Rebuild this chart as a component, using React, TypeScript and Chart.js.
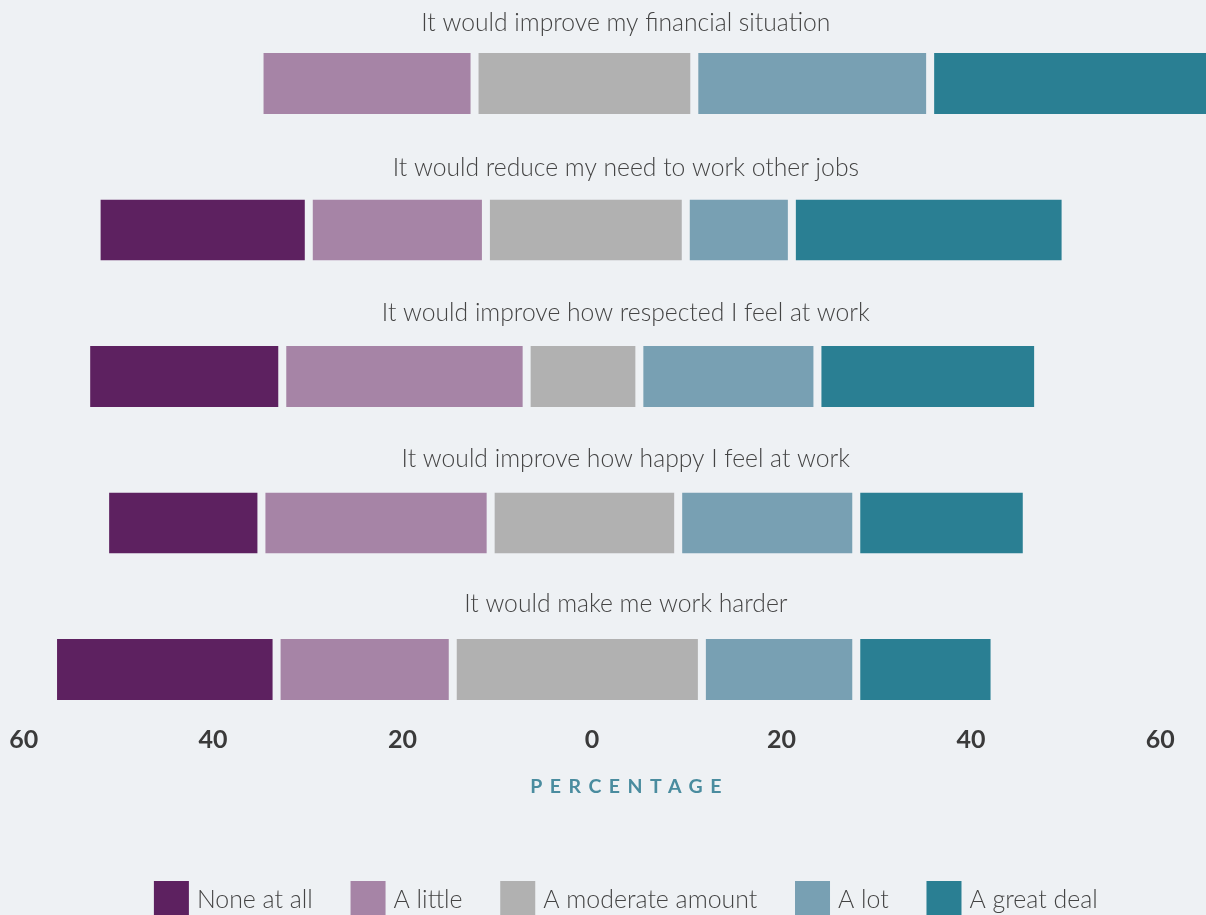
import { useEffect, useRef } from 'react';
import { Chart, registerables } from 'chart.js';

Chart.register(...registerables);

const categories = [
  'It would improve my financial situation',
  'It would reduce my need to work other jobs',
  'It would improve how respected I feel at work',
  'It would improve how happy I feel at work',
  'It would make me work harder',
];

// values in percent; left-side answers are negative
const noneAtAll = [0, -22.4, -20.7, -16.5, -23.6];
const aLittle = [-22.7, -18.7, -25.8, -24.2, -18.6];
const moderateLeft = [-12.4, -11.2, -6.9, -10.7, -14.7];
const moderateRight = [10.8, 9.9, 5.0, 9.1, 11.6];
const aLot = [24.9, 11.2, 18.8, 18.8, 16.3];
const aGreatDeal = [30.0, 28.9, 23.3, 18.0, 14.6];

const xTicks = [-60, -40, -20, 0, 20, 40, 60];
const axisTitle = 'PERCENTAGE';
const legendLabels = ['None at all', 'A little', 'A moderate amount', 'A lot', 'A great deal'];
const seriesColors = ['#5d2160', '#a684a6', '#b1b1b1', '#78a0b3', '#2a7f93'];

const BG = '#eef1f4';
const TEXT = '#444444';
const TICK = '#3a3a3a';
const TITLE = '#4a8c9f';
const GAP = 4;

function makeDataset(label: string, data: number[], color: string, noLeft: boolean, noRight: boolean) {
  return {
    label,
    data,
    backgroundColor: color,
    borderColor: BG,
    borderWidth: { left: noLeft ? 0 : GAP, right: noRight ? 0 : GAP, top: 0, bottom: 0 },
    borderSkipped: false as const,
    barThickness: 61,
    stack: 'likert',
    inflateAmount: 0,
  };
}

const overlayPlugin = {
  id: 'overlay',
  afterDraw(chart: any) {
    const { ctx, chartArea, scales } = chart;
    const cx = (chartArea.left + chartArea.right) / 2;
    ctx.save();
    // category titles above each bar
    ctx.fillStyle = TEXT;
    ctx.font = '300 24.7px Lato';
    ctx.textAlign = 'center';
    ctx.textBaseline = 'alphabetic';
    const y0 = scales.y.getPixelForValue(0);
    categories.forEach((c, i) => {
      ctx.fillText(c, cx, y0 - 52.5 + i * 145.2);
    });
    // x tick labels
    ctx.fillStyle = TICK;
    ctx.font = 'bold 25px Lato';
    xTicks.forEach((v) => {
      ctx.fillText(String(Math.abs(v)), scales.x.getPixelForValue(v), chartArea.bottom + 5.5);
    });
    // axis title with letter spacing
    const spacing = 7.5;
    ctx.font = 'bold 19.5px Lato';
    ctx.fillStyle = TITLE;
    ctx.letterSpacing = spacing + 'px';
    const tw = ctx.measureText(axisTitle).width - spacing;
    ctx.textAlign = 'left';
    ctx.fillText(axisTitle, cx - tw / 2, chartArea.bottom + 50.5);
    ctx.letterSpacing = '0px';
    // legend
    ctx.font = '300 24.9px Lato';
    const box = 35;
    const boxGap = 8;
    const itemGap = 37.7;
    const widths = legendLabels.map((l) => box + boxGap + ctx.measureText(l).width);
    const total = widths.reduce((a, b) => a + b, 0) + itemGap * (legendLabels.length - 1);
    let x = cx - total / 2;
    const top = chartArea.bottom + 138.25;
    legendLabels.forEach((l, i) => {
      ctx.fillStyle = seriesColors[i];
      ctx.fillRect(x, top, box, box);
      ctx.fillStyle = TEXT;
      ctx.fillText(l, x + box + boxGap, top + 26.7);
      x += widths[i] + itemGap;
    });
    ctx.restore();
  },
};

export default function App() {
  const ref = useRef<HTMLCanvasElement>(null);
  useEffect(() => {
    document.documentElement.style.background = BG;
    document.documentElement.style.overflow = 'hidden';
    document.body.style.background = BG;
    document.body.style.margin = '0';
    document.body.style.overflow = 'hidden';
    const chart = new Chart(ref.current!, {
      type: 'bar',
      data: {
        labels: categories,
        datasets: [
          makeDataset('A moderate amount', moderateLeft, seriesColors[2], false, true),
          makeDataset('A moderate amount', moderateRight, seriesColors[2], true, false),
          makeDataset('A little', aLittle, seriesColors[1], false, false),
          makeDataset('A lot', aLot, seriesColors[3], false, false),
          makeDataset('None at all', noneAtAll, seriesColors[0], false, false),
          makeDataset('A great deal', aGreatDeal, seriesColors[4], false, false),
        ] as any,
      },
      options: {
        indexAxis: 'y',
        responsive: false,
        animation: false,
        layout: { padding: { left: 15.68, right: 16, top: 2.25, bottom: 155.25 } },
        plugins: { legend: { display: false }, tooltip: { enabled: false } },
        scales: {
          x: {
            type: 'linear',
            min: -60,
            max: 67.1453,
            stacked: true,
            grid: { display: false },
            border: { display: false },
            ticks: { display: false },
            afterFit: (s: any) => {
              s.height = 50;
            },
          },
          y: { type: 'category', stacked: true, display: false },
        },
      } as any,
      plugins: [overlayPlugin],
    });
    return () => chart.destroy();
  }, []);
  return (
    <div
      style={{
        width: 1206,
        height: 915,
        overflow: 'hidden',
        background: BG,
        paddingLeft: 8,
        paddingTop: 8,
        boxSizing: 'border-box',
      }}
    >
      <canvas ref={ref} width={1236} height={940} style={{ display: 'block' }} />
    </div>
  );
}
